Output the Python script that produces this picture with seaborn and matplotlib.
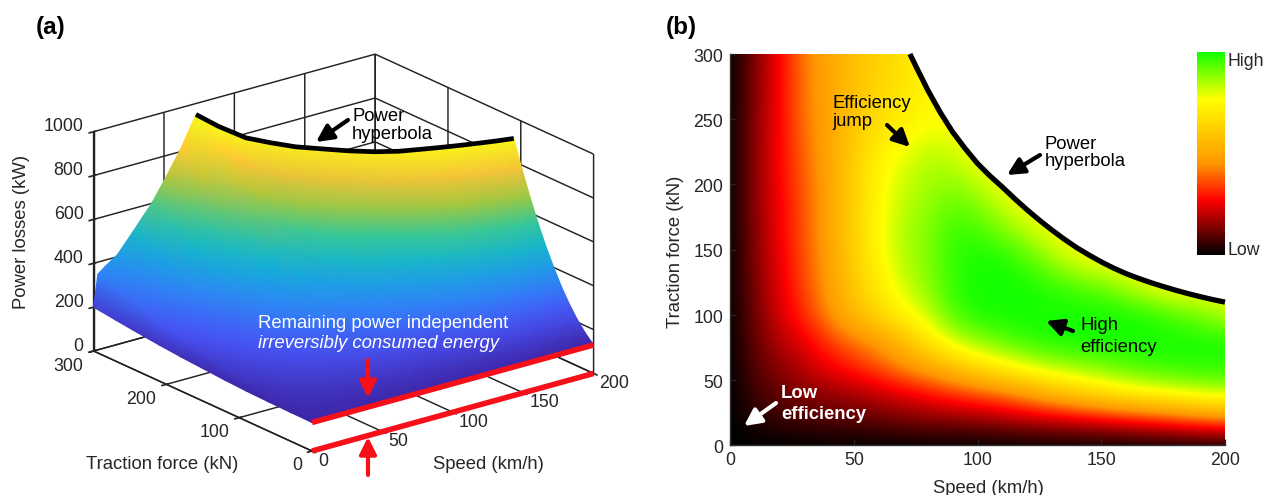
import numpy as np
import pandas as pd
import matplotlib
matplotlib.use('Agg')
import matplotlib.pyplot as plt
import seaborn as sns
from matplotlib.colors import LinearSegmentedColormap
from matplotlib.patches import Polygon
from matplotlib.transforms import ScaledTranslation
from mpl_toolkits.mplot3d import proj3d

W, H = 1264, 495

# panel (a): losses, rows = share of the force limit
a_speeds = [0, 3, 8, 17, 28, 42, 52, 62, 72.7, 78, 85, 92, 100, 110, 120, 130, 140, 150, 160, 170, 180, 190, 200]
a_force_limit = [300, 300, 300, 300, 300, 300, 300, 300, 300, 279.5, 255, 235, 216, 198, 180.5, 165, 151.5, 140.5, 131.5, 124.6, 118.8, 113.8, 109.6]
a_force_share = [0, .1, .2, .3, .4, .5, .6, .7, .8, .9, 1]
a_losses = [
    [130] * 23,
    [131, 138, 143, 150, 156, 163, 167, 172, 179, 175, 173, 172, 172, 172, 172, 172, 172, 171, 170, 169, 168, 167, 166],
    [133, 149, 159, 172, 184, 199, 209, 221, 235, 228, 223, 221, 221, 221, 220, 220, 220, 220, 218, 217, 215, 212, 210],
    [136, 163, 177, 195, 215, 239, 256, 274, 298, 287, 279, 278, 277, 277, 277, 276, 277, 278, 276, 273, 270, 267, 264],
    [141, 180, 197, 220, 247, 282, 307, 334, 369, 355, 345, 342, 341, 341, 340, 341, 342, 342, 341, 338, 334, 331, 327],
    [148, 200, 220, 248, 281, 327, 364, 400, 448, 430, 417, 414, 413, 413, 412, 412, 413, 415, 414, 411, 408, 404, 401],
    [155, 223, 245, 277, 317, 376, 424, 470, 533, 512, 497, 494, 492, 492, 491, 491, 493, 495, 495, 492, 489, 486, 482],
    [164, 249, 273, 308, 358, 429, 489, 548, 626, 601, 584, 580, 578, 578, 577, 578, 581, 584, 584, 582, 581, 577, 574],
    [175, 278, 303, 341, 402, 485, 558, 631, 726, 698, 678, 674, 671, 672, 672, 672, 675, 681, 682, 681, 680, 677, 675],
    [187, 310, 335, 375, 445, 544, 632, 720, 835, 805, 780, 776, 773, 774, 773, 775, 779, 785, 788, 788, 788, 787, 786],
    [200, 345, 370, 410, 495, 607, 708, 814, 950, 918, 890, 886, 882, 882, 882, 884, 889, 897, 902, 904, 905, 905, 905],
]
a_speed_ticks = [0, 50, 100, 150, 200]
a_force_ticks = [0, 100, 200, 300]
a_loss_ticks = [0, 200, 400, 600, 800, 1000]
remaining_power = 130

# panel (b): efficiency level, one row per 20 kN
b_speeds = list(range(0, 201, 10))
b_forces = list(range(0, 301, 20))
b_eff = [
    [0] * 21,
    [0, .04, .06, .08, .09, .1, .11, .13, .14, .15, .16, .18, .2, .22, .24, .26, .29, .32, .35, .39, .42],
    [0, .07, .11, .14, .16, .18, .21, .25, .29, .33, .37, .41, .48, .55, .62, .68, .73, .77, .8, .83, .85],
    [0, .09, .15, .2, .26, .31, .37, .44, .5, .58, .67, .74, .8, .85, .88, .91, .94, .96, .97, .98, .98],
    [0, .11, .19, .25, .34, .41, .47, .57, .7, .82, .88, .93, .97, .99, 1, 1, 1, 1, 1, 1, .99],
    [0, .12, .23, .32, .44, .56, .65, .74, .82, .94, .99, 1, 1, 1, 1, 1, 1, .98, .94, .9, .84],
    [0, .13, .24, .35, .47, .6, .71, .81, .88, .97, 1, 1, 1, .98, .95, .93, .86, .8, .76, .76, .76],
    [0, .14, .25, .36, .48, .62, .74, .84, .89, .97, 1, 1, .95, .88, .81, .77, .76, .76, .76, .76, .76],
    [0, .14, .26, .37, .49, .63, .76, .85, .89, .97, .96, .92, .86, .79] + [.76] * 7,
    [0, .15, .26, .37, .49, .63, .75, .84, .88, .93, .91, .84, .77] + [.76] * 8,
    [0, .15, .27, .38, .49, .63, .75, .82, .86, .88, .84, .77] + [.76] * 9,
    [0, .15, .27, .39, .49, .62, .74, .79, .84, .83, .77] + [.76] * 10,
    [0, .15, .27, .4, .5, .6, .69, .74, .79, .77] + [.76] * 11,
    [0, .14, .27, .41, .5, .59, .66, .71, .75] + [.76] * 12,
    [0, .14, .27, .41, .5, .58, .64, .69, .74] + [.76] * 12,
    [0, .13, .27, .42, .5, .58, .63, .68, .74] + [.76] * 12,
]
hyper_speed = [72.7, 75, 80, 85, 90, 95, 100, 105, 110, 115, 120, 125, 130, 135, 140, 145, 150, 155, 160,
               165, 170, 175, 180, 185, 190, 195, 200]
hyper_force = [300, 291, 272, 255, 240, 227.5, 216, 206.5, 198, 189, 180.5, 172.5, 165, 158, 151.5, 145.8, 140.5,
               135.7, 131.5, 127.9, 124.6, 121.6, 118.8, 116.2, 113.8, 111.6, 109.6]

sns.set_theme(style='white', rc={'grid.color': '#222222', 'grid.linewidth': 1.05})
plt.rcParams['font.family'] = ['Liberation Sans', 'DejaVu Sans']
TICK = 12.8
TEXT = 13.3

parula = LinearSegmentedColormap.from_list('parula', [
    (0.2422, 0.1504, 0.6603), (0.2810, 0.3228, 0.9579), (0.1786, 0.5289, 0.9682),
    (0.0689, 0.6948, 0.8394), (0.2161, 0.7843, 0.5923), (0.6720, 0.7793, 0.2227),
    (0.9970, 0.7659, 0.2199), (0.9769, 0.9839, 0.0805)])
heat = LinearSegmentedColormap.from_list('heat', [
    (0, '#000000'), (.27, '#ff0000'), (.45, '#ff9600'), (.77, '#ffff00'), (1, '#14ff00')])

fig = plt.figure(figsize=(W / 100, H / 100), dpi=100)

# ---- panel (a)
ax3 = fig.add_axes([0, 0, 0.5, 1], projection='3d', proj_type='ortho')
ax3.view_init(elev=20.8, azim=-127.8)
ax3.set_xlim(0, 200)
ax3.set_ylim(0, 300)
ax3.set_zlim(0, 1000)
ax3.set_xticks(a_speed_ticks)
ax3.set_yticks(a_force_ticks)
ax3.set_zticks(a_loss_ticks)
ax3.set_xticklabels([])
ax3.set_yticklabels([])
ax3.set_zticklabels([])
for axis in (ax3.xaxis, ax3.yaxis, ax3.zaxis):
    axis.set_pane_color((1, 1, 1, 0))
    axis.pane.set_edgecolor('#222222')
    axis.pane.set_linewidth(1.05)
    axis.line.set_color('#222222')
    axis.line.set_linewidth(1.05)


def to_px(xs, ys, zs):
    xs, ys, zs = [np.asarray(c, dtype=float) for c in (xs, ys, zs)]
    xp, yp, _ = proj3d.proj_transform(xs.ravel(), ys.ravel(), zs.ravel(), ax3.get_proj())
    pts = ax3.transData.transform(np.column_stack([xp, yp]))
    return pts[:, 0].reshape(xs.shape), H - pts[:, 1].reshape(xs.shape)


# fit the box to the frame of the reference
aspect = (357, 357, 235)
ax3.set_box_aspect(aspect, zoom=1)
fig.canvas.draw()
left, _ = to_px([0], [300], [0])
right, _ = to_px([200], [0], [0])
ax3.set_box_aspect(aspect, zoom=500 / (right[0] - left[0]))
fig.canvas.draw()
ox, oy = to_px([0], [0], [0])
ax3.set_position([(312 - ox[0]) / W, -(451 - oy[0]) / H, 0.5, 1])
fig.canvas.draw()

over = fig.add_axes([0, 0, 1, 1], zorder=5)
over.set_xlim(0, W)
over.set_ylim(H, 0)
over.axis('off')

v_grid, s_grid = np.meshgrid(a_speeds, a_force_share)
f_grid = s_grid * np.array(a_force_limit)
losses = np.array(a_losses, dtype=float)
sx, sy = to_px(v_grid, f_grid, losses)
over.pcolormesh(sx, sy, losses, shading='gouraud', cmap=parula, vmin=130, vmax=915)

hx, hy = to_px(a_speeds[8:], a_force_limit[8:], a_losses[-1][8:])
over.plot(hx, hy, color='black', lw=3.4, solid_capstyle='butt')
for level in (remaining_power, 0):
    rx, ry = to_px([0, 200], [0, 0], [level, level])
    over.plot(rx, ry, color='#f5101a', lw=4, solid_capstyle='butt')

for v in a_speed_ticks:
    tx, ty = to_px([v], [0], [0])
    over.text(tx[0] + 6, ty[0] + 10, str(v), fontsize=TICK, ha='left', va='center')
for f in a_force_ticks:
    tx, ty = to_px([0], [f], [0])
    over.text(tx[0] - 10, ty[0] + 15, str(f), fontsize=TICK, ha='right', va='center')
for z in a_loss_ticks:
    tx, ty = to_px([0], [300], [z])
    over.text(tx[0] - 10, ty[0] - 5, str(z), fontsize=TICK, ha='right', va='center')


def arrow(tail, head, color='black', lw=3):
    over.annotate('', xy=head, xytext=tail,
                  arrowprops=dict(arrowstyle='-|>,head_width=0.36,head_length=0.72', lw=lw, color=color,
                                  shrinkA=0, shrinkB=0, mutation_scale=14))


def label(x, y, s, **kw):
    over.text(x, y + 1.5, s, fontsize=kw.pop('fontsize', TEXT), ha=kw.pop('ha', 'left'), va='center', **kw)


label(22, 230, 'Power losses (kW)', rotation=90, ha='center')
label(162, 463, 'Traction force (kN)', ha='center')
label(488, 463, 'Speed (km/h)', ha='center')
label(36, 26, '(a)', fontsize=17.5, fontweight='bold', color='black')
label(666, 26, '(b)', fontsize=17.5, fontweight='bold', color='black')

label(352, 115, 'Power', color='black')
label(352, 133, 'hyperbola', color='black')
arrow((348, 120), (316, 142))
label(258, 322, 'Remaining power independent', color='white')
label(258, 342, 'irreversibly consumed energy', color='white', style='italic')
arrow((368, 360), (368, 398), color='#f5101a')
arrow((368, 475), (368, 437), color='#f5101a')

# ---- panel (b)
bx = fig.add_axes([730 / W, 1 - 445 / H, 495 / W, 391 / H])
cax = fig.add_axes([1197 / W, 1 - 255 / H, 28 / W, 203 / H], zorder=3)
eff = pd.DataFrame(b_eff, index=b_forces, columns=b_speeds)
sns.heatmap(eff, ax=bx, cmap=heat, vmin=0, vmax=1, cbar_ax=cax)
mesh = bx.collections[0]
mesh.set_visible(False)
# same cells, smoothed on the values and not on the colours
smooth = bx.imshow(eff.values, origin='lower', extent=(-.5, 20.5, -.5, 15.5), aspect='auto', cmap=heat,
                   vmin=0, vmax=1, interpolation='bicubic', interpolation_stage='data')
bx.set_xlim(0, 20)
bx.set_ylim(0, 15)

hx2 = np.array(hyper_speed) / 10
hy2 = np.array(hyper_force) / 20
clip = Polygon(np.column_stack([np.r_[0, 20, hx2[::-1], 0], np.r_[0, 0, hy2[::-1], 15]]),
               transform=bx.transData, facecolor='none', edgecolor='none')
bx.add_patch(clip)
smooth.set_clip_path(clip)
bx.plot(hx2, hy2, color='black', lw=3.8, clip_on=False, solid_capstyle='butt')

bx.set_xticks([0, 5, 10, 15, 20], labels=[0, 50, 100, 150, 200], rotation=0, fontsize=TICK)
bx.set_yticks([0, 2.5, 5, 7.5, 10, 12.5, 15], labels=[0, 50, 100, 150, 200, 250, 300], rotation=0, fontsize=TICK)
bx.tick_params(direction='in', length=4, width=0.9, left=True, bottom=True, pad=5)
down = ScaledTranslation(0, -2.5 / 72, fig.dpi_scale_trans)
for tick_label in bx.get_yticklabels():
    tick_label.set_transform(tick_label.get_transform() + down)
bx.set_xlabel('')
bx.set_ylabel('')
for side in ('left', 'bottom'):
    bx.spines[side].set_visible(True)
    bx.spines[side].set_linewidth(1.0)
    bx.spines[side].set_color('#333333')

cb = mesh.colorbar
cb.set_ticks([0.03, 0.965], labels=['Low', 'High'])
cb.ax.tick_params(length=0, labelsize=TICK, pad=2)

label(988, 487, 'Speed (km/h)', ha='center')
label(675, 250, 'Traction force (kN)', rotation=90, ha='center')
label(832, 102, 'Efficiency', color='black')
label(832, 120, 'jump', color='black')
arrow((887, 125), (910, 147))
label(1045, 143, 'Power', color='black')
label(1045, 160, 'hyperbola', color='black')
arrow((1040, 155), (1007, 175))
label(1080, 324, 'High', color='black')
label(1080, 346, 'efficiency', color='black')
arrow((1073, 331), (1046, 321))
label(781, 392, 'Low', color='white', fontweight='bold')
label(781, 413, 'efficiency', color='white', fontweight='bold')
arrow((776, 403), (744, 426), color='white')

plt.savefig('out.png', dpi=100)
